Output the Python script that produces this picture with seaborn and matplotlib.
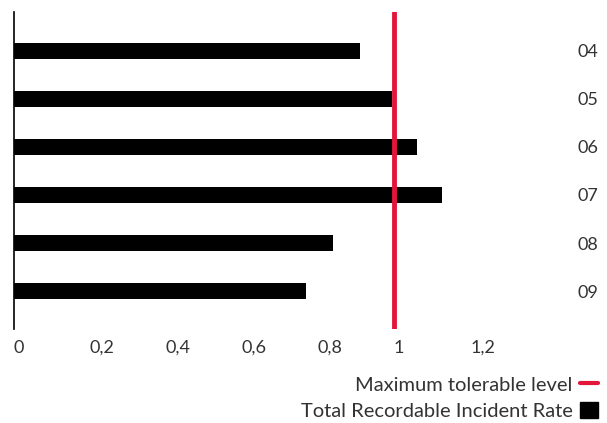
import matplotlib
matplotlib.use("Agg")
import matplotlib.pyplot as plt
from matplotlib.lines import Line2D
from matplotlib.patches import Patch
import seaborn as sns
import pandas as pd

years = ["04", "05", "06", "07", "08", "09"]
trir = [0.91, 0.995, 1.06, 1.125, 0.84, 0.77]
max_tolerable = 1.0
x_ticks = [0, 0.2, 0.4, 0.6, 0.8, 1.0, 1.2]
x_tick_labels = ["0", "0,2", "0,4", "0,6", "0,8", "1", "1,2"]
legend_labels = ["Maximum tolerable level", "Total Recordable Incident Rate"]

RED = "#e3163a"
TEXT = "#333333"

sns.set_theme(style="white")
plt.rcParams["font.family"] = ["Lato", "DejaVu Sans"]

df = pd.DataFrame({"year": years, "trir": trir})

W, H = 607, 423
fig = plt.figure(figsize=(W / 100, H / 100), dpi=100)
ax = fig.add_axes([13.5 / W, (H - 329) / H, (598 - 13.5) / W, (329 - 12) / H])

sns.barplot(data=df, x="trir", y="year", orient="h", color="black",
            width=1 / 3, saturation=1, ax=ax, edgecolor="none")
ax.axvline(max_tolerable, color=RED, lw=3.5, zorder=5)

ax.set_xlim(0, (598 - 13.5) / 380.5)
ax.set_ylim(5.79, -0.81)

sns.despine(ax=ax, top=True, right=True, bottom=True, left=False)
ax.spines["left"].set_color("black")
ax.spines["left"].set_linewidth(1.2)

ax.set_xticks(x_ticks)
ax.set_xticklabels(x_tick_labels, ha="left")
ax.yaxis.tick_right()
ax.tick_params(axis="x", length=0, pad=8, labelsize=13, labelcolor=TEXT)
ax.tick_params(axis="y", length=0, pad=0, labelsize=13, labelcolor=TEXT)
for lbl in ax.get_yticklabels():
    lbl.set_ha("right")
ax.set_xlabel("")
ax.set_ylabel("")

handles = [Line2D([0], [0], color=RED, lw=3),
           Patch(facecolor="black", edgecolor="black")]
fig.legend(handles, legend_labels, loc="lower right",
           bbox_to_anchor=(598 / W, 3 / H), frameon=False, markerfirst=False,
           fontsize=14.5, labelcolor=TEXT, handlelength=0.9, handleheight=0.9,
           handletextpad=0.35, labelspacing=0.4, borderaxespad=0, borderpad=0)

fig.savefig("out.png", dpi=100)
